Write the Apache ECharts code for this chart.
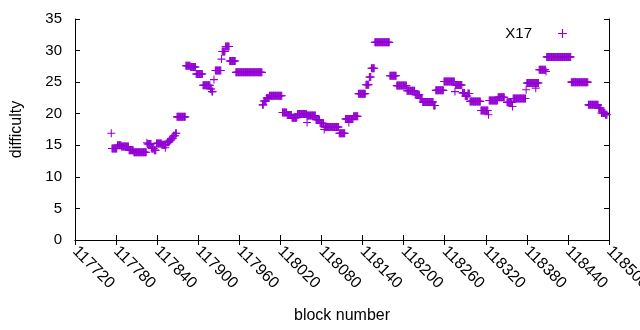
<!DOCTYPE html>
<html>
<head>
<meta charset="utf-8">
<script src="https://cdn.jsdelivr.net/npm/echarts@6/dist/echarts.min.js"></script>
<style>
  html, body { margin: 0; padding: 0; background: #fff; }
  #chart { width: 640px; height: 330px; }
</style>
</head>
<body>
<div id="chart"></div>
<script>
// runs of blocks sharing the same difficulty (first block, last block, value)
var runStart = [117773,117774,117782,117788,117799,117806,117825,117826,117832,117836,117839,117847,117852,117855,117858,117861,117864,117867,117869,
  117882,117889,117897,117907,117918,117920,117923,117925,117934,117935,117940,117946,117955,117994,117996,118000,118004,
  118023,118030,118037,118045,118059,118059,118072,118078,118084,118085,118106,118115,118120,118127,118134,118145,118150,118153,
  118158,118180,118190,118205,118217,118224,118228,118244,118247,118259,118275,118276,118286,118290,118294,118297,118313,118324,
  118325,118338,118351,118359,118360,118379,118380,118393,118398,118408,118409,118445,118470,118485,118489,118495];
var runEnd = [117773,117781,117787,117798,117805,117824,117825,117831,117835,117838,117846,117853,117852,117857,117860,117863,117866,117868,117881,
  117888,117896,117906,117917,117919,117921,117923,117933,117934,117939,117945,117954,117993,117995,117999,118003,118022,
  118029,118036,118044,118058,118059,118071,118077,118083,118084,118105,118114,118126,118120,118133,118144,118149,118152,118157,
  118179,118189,118204,118216,118223,118227,118243,118246,118258,118274,118275,118285,118289,118293,118296,118312,118323,118324,
  118337,118347,118358,118359,118378,118379,118397,118393,118407,118408,118444,118469,118484,118488,118494,118497];
var runDiff = [16.9,14.5,15.0,14.8,14.2,13.9,15.4,15.2,14.5,14.2,15.3,15.1,14.6,15.5,15.8,16.1,16.5,16.9,19.5,
  27.6,27.4,26.3,24.5,23.9,23.5,25.4,26.85,28.65,29.85,30.65,28.35,26.55,21.4,22.0,22.5,22.85,
  20.2,19.8,19.35,19.95,18.6,19.7,19.05,18.5,17.5,17.9,16.9,19.15,18.6,19.6,23.15,24.6,25.8,27.2,
  31.3,26.0,24.45,23.65,23.0,22.4,21.85,21.3,23.7,25.1,23.5,24.55,23.3,22.8,23.2,21.95,20.5,19.85,
  22.1,22.6,21.8,21.15,22.4,23.8,24.85,24.05,26.95,26.7,29.0,25.0,21.4,20.9,20.1,19.85];

var xMin = 117720, xMax = 118500, xStep = 60;
var yMin = 0, yMax = 35, yStep = 5;

var points = [];
for (var i = 0; i < runStart.length; i++) {
  for (var b = runStart[i]; b <= runEnd[i]; b++) {
    points.push([b, runDiff[i]]);
  }
}

var plusPath = 'path://M0,39H90V51H0Z M39,0H51V90H39Z';
var ink = '#000';
var font = 'Liberation Sans, Arial, sans-serif';

var chart = echarts.init(document.getElementById('chart'));
var option = {
  animation: false,
  backgroundColor: '#fff',
  grid: { left: 75, right: 31, top: 19, bottom: 90, outerBoundsMode: 'none', containLabel: false },
  legend: {
    data: ['X17'],
    right: 68,
    top: 21,
    align: 'right',
    itemWidth: 9,
    itemHeight: 9,
    icon: plusPath,
    textStyle: { color: ink, fontSize: 15, fontFamily: font, padding: [0, 21, 0, 0] }
  },
  xAxis: [{
    type: 'value',
    min: xMin, max: xMax, interval: xStep,
    name: 'block number',
    nameLocation: 'middle',
    nameGap: 68,
    nameTextStyle: { color: ink, fontSize: 16, fontFamily: font },
    axisLine: { show: true, lineStyle: { color: ink, width: 1 } },
    axisTick: { show: true, inside: true, length: 5, lineStyle: { color: ink } },
    axisLabel: {
      rotate: -45, margin: 9, color: ink, fontSize: 16, fontFamily: font,
      formatter: function (v) { return String(v); }
    },
    splitLine: { show: false }
  }, {
    type: 'value', position: 'top',
    min: xMin, max: xMax, interval: xStep,
    axisLine: { show: true, lineStyle: { color: ink, width: 1 } },
    axisTick: { show: true, inside: true, length: 5, lineStyle: { color: ink } },
    axisLabel: { show: false },
    splitLine: { show: false }
  }],
  yAxis: [{
    type: 'value',
    min: yMin, max: yMax, interval: yStep,
    name: 'difficulty',
    nameLocation: 'middle',
    nameGap: 50,
    nameTextStyle: { color: ink, fontSize: 16, fontFamily: font },
    axisLine: { show: true, lineStyle: { color: ink, width: 1 } },
    axisTick: { show: true, inside: true, length: 5, lineStyle: { color: ink } },
    axisLabel: { margin: 13, color: ink, fontSize: 15, fontFamily: font },
    splitLine: { show: false }
  }, {
    type: 'value', position: 'right',
    min: yMin, max: yMax, interval: yStep,
    axisLine: { show: true, lineStyle: { color: ink, width: 1 } },
    axisTick: { show: true, inside: true, length: 5, lineStyle: { color: ink } },
    axisLabel: { show: false },
    splitLine: { show: false }
  }],
  series: [{
    name: 'X17',
    type: 'scatter',
    symbol: plusPath,
    symbolSize: 8,
    itemStyle: { color: '#9400d3', opacity: 1 },
    emphasis: { disabled: true },
    data: points
  }]
};
chart.setOption(option);
</script>
</body>
</html>
